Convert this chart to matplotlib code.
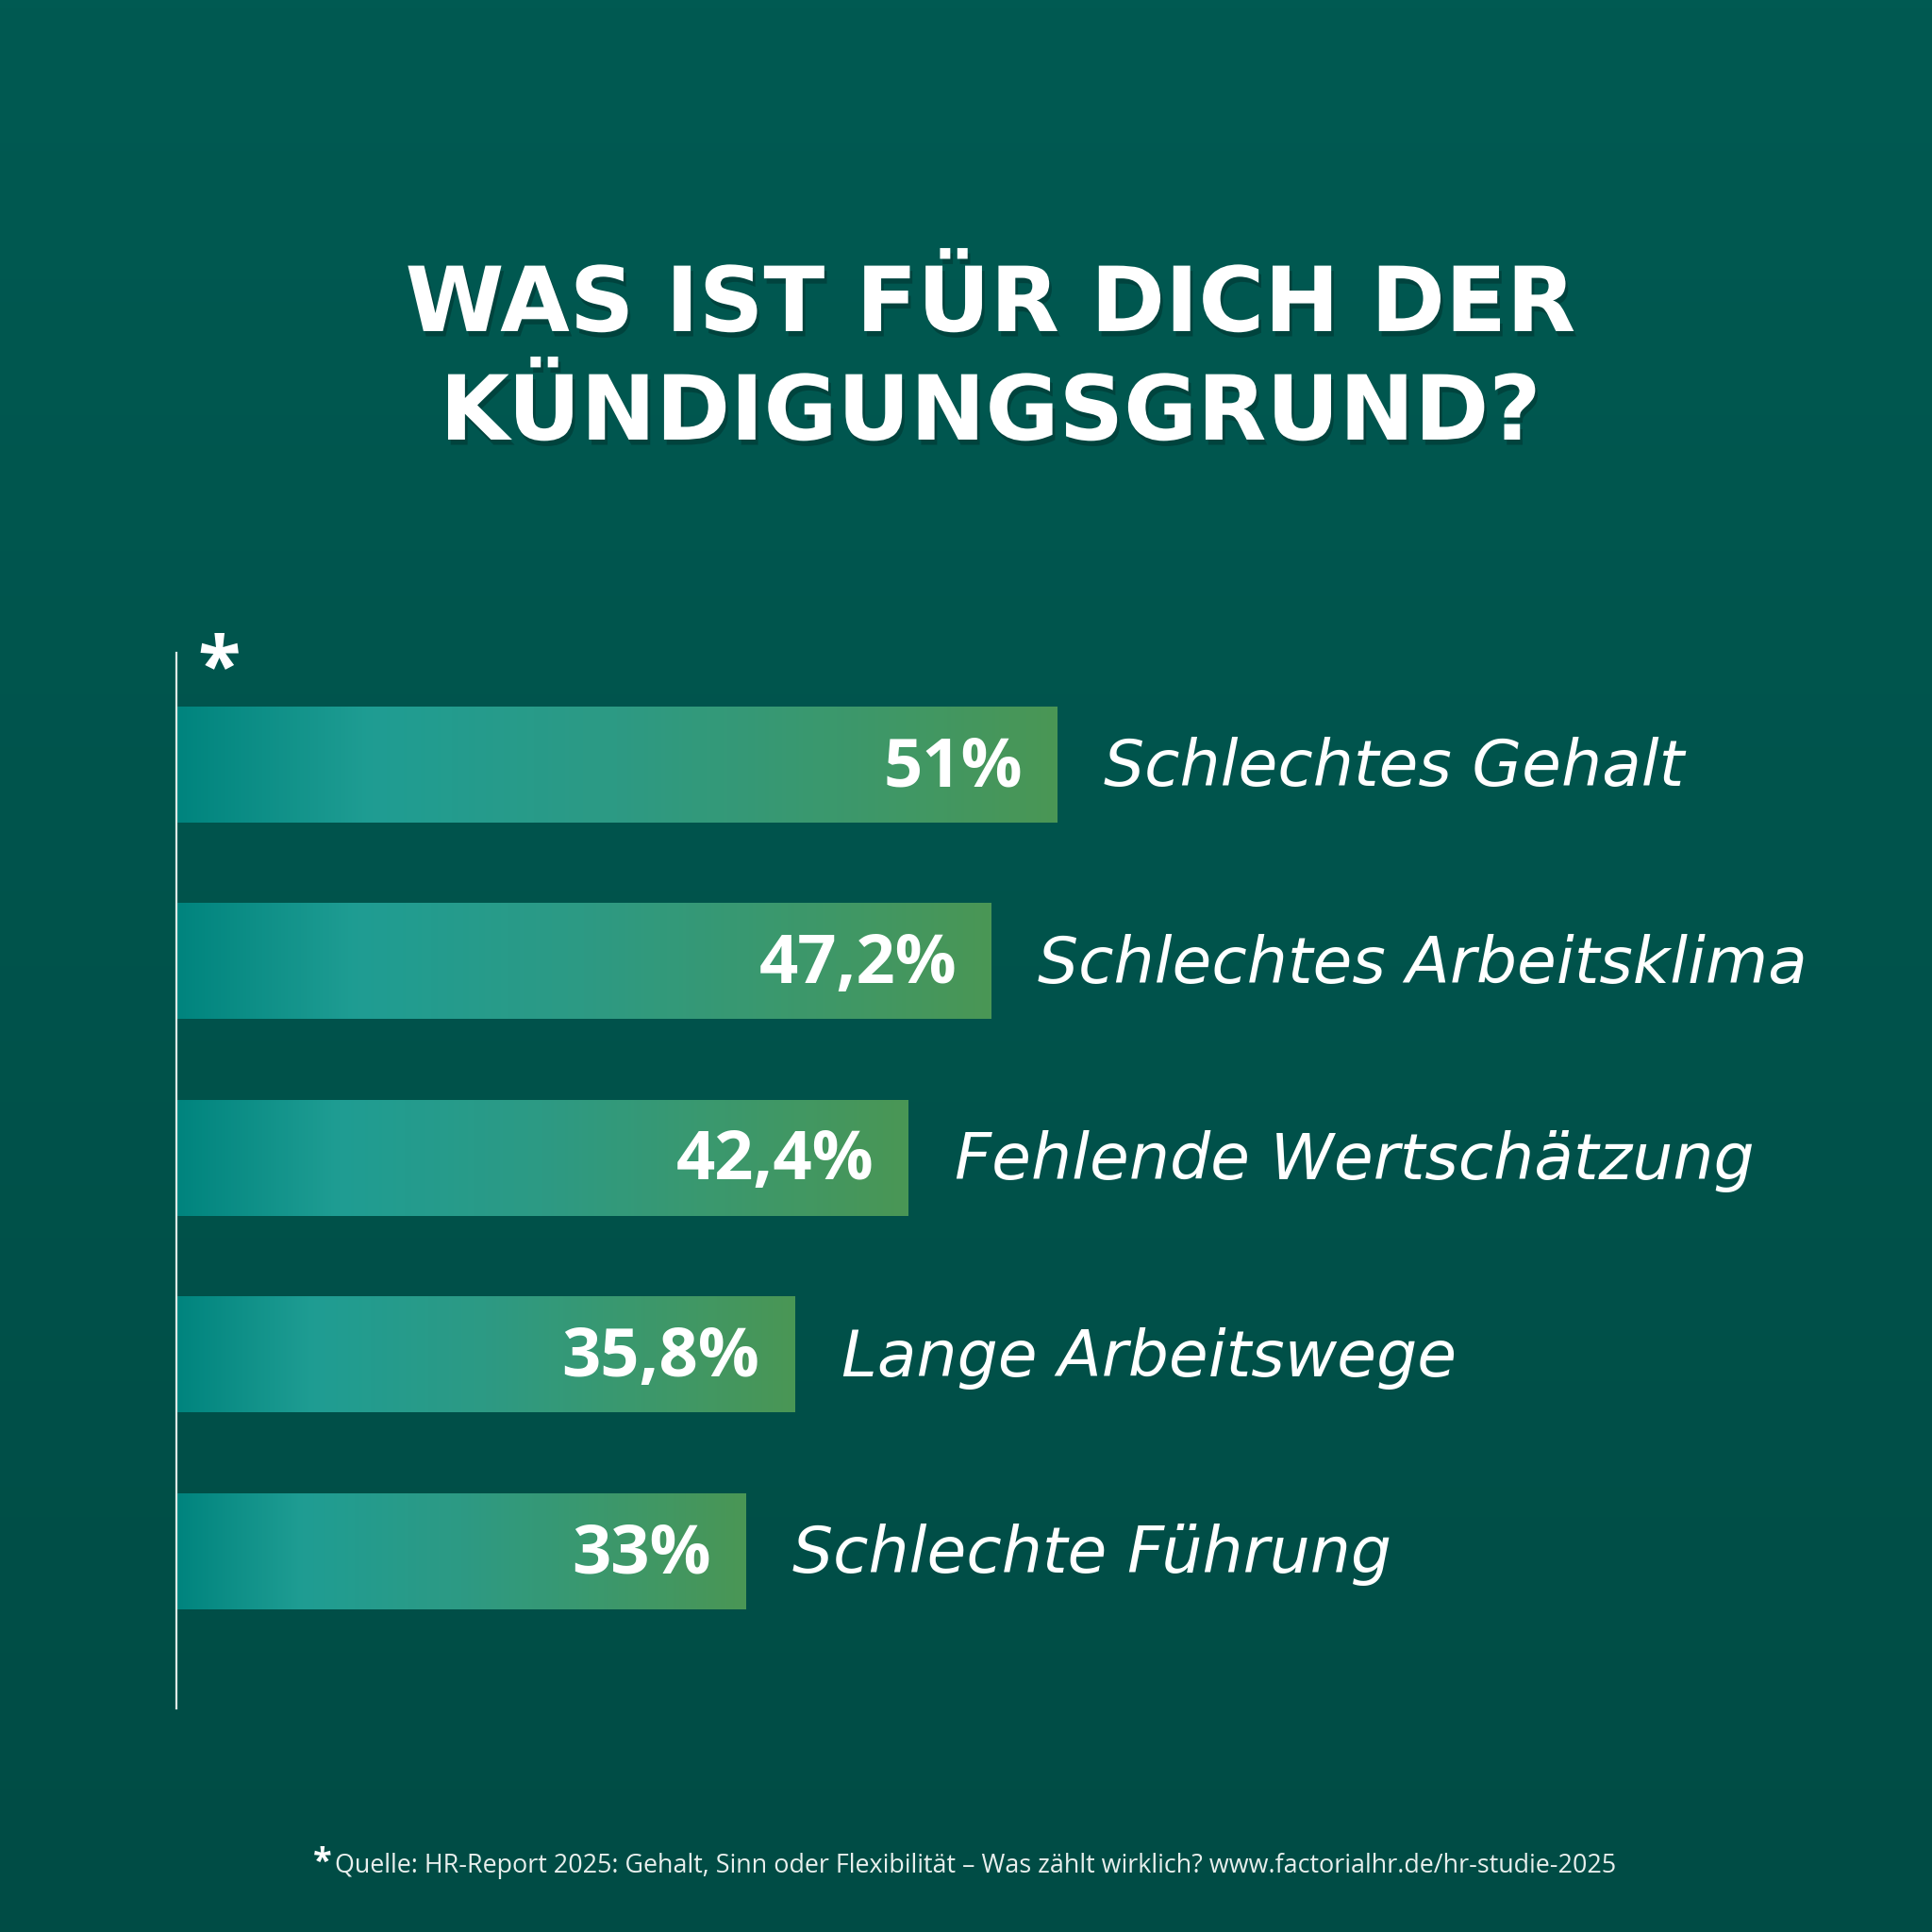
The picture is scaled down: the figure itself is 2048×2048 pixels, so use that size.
import numpy as np
import matplotlib.pyplot as plt
from matplotlib.colors import LinearSegmentedColormap
import matplotlib.patheffects as pe

categories = ['Schlechtes Gehalt', 'Schlechtes Arbeitsklima', 'Fehlende Wertschätzung',
              'Lange Arbeitswege', 'Schlechte Führung']
values = [51, 47.2, 42.4, 35.8, 33]
value_labels = ['51%', '47,2%', '42,4%', '35,8%', '33%']
title = 'WAS IST FÜR DICH DER\nKÜNDIGUNGSGRUND?'
source = 'Quelle: HR-Report 2025: Gehalt, Sinn oder Flexibilität – Was zählt wirklich? www.factorialhr.de/hr-studie-2025'

W = 2048
fig = plt.figure(figsize=(20.48, 20.48), dpi=100)

# background gradient
bg = fig.add_axes([0, 0, 1, 1], zorder=0)
bg_cmap = LinearSegmentedColormap.from_list('bg', ['#004c45', '#005a52'])
bg.imshow(np.linspace(0, 1, 256).reshape(-1, 1), aspect='auto', cmap=bg_cmap,
          origin='lower', extent=[0, 1, 0, 1])
bg.set_axis_off()

# bars
bar_cmap = LinearSegmentedColormap.from_list(
    'bar', [(0, '#00847e'), (0.22, '#1f9d93'), (0.5, '#2d9a84'), (1, '#4a9655')])
ax = fig.add_axes([187 / W, 1 - 1811 / W, 1830 / W, 1119 / W], zorder=1)
ax.patch.set_alpha(0)
y = np.arange(len(values))
h = 0.59
bars = ax.barh(y, values, height=h, color='none')
grad = np.linspace(0, 1, 256).reshape(1, -1)
for b, v, yy in zip(bars, values, y):
    im = ax.imshow(grad, cmap=bar_cmap, aspect='auto',
                   extent=[0, v, yy + h / 2, yy - h / 2], zorder=2)
    im.set_clip_path(b)

ax.set_xlim(0, 100)
ax.set_ylim(4.80, -0.566)
for s in ['top', 'right', 'bottom']:
    ax.spines[s].set_visible(False)
ax.spines['left'].set_color('#dfe9e6')
ax.spines['left'].set_linewidth(1.6)
ax.set_xticks([])
ax.set_yticks([])

for v, yy, lab, cat in zip(values, y, value_labels, categories):
    ax.text(v - 2.0, yy + 0.02, lab, ha='right', va='center', color='white',
            fontsize=52, fontweight='bold', family='Open Sans', zorder=3)
    ax.text(v + 2.7, yy + 0.02, cat, ha='left', va='center', color='white',
            fontsize=49, fontstyle='italic', family='DejaVu Sans', zorder=3)

# asterisk at top of axis
fig.text(232 / W, 1 - 712 / W, '*', ha='center', va='center', color='white',
         fontsize=60, fontweight='bold', family='Open Sans')

# title
fig.text(1050 / W, 1 - 466 / W, title, ha='center', va='baseline', color='white',
         fontsize=68.5, fontweight='bold', family='DejaVu Sans', linespacing=1.32,
         path_effects=[pe.withSimplePatchShadow(offset=(2, -4), shadow_rgbFace='black', alpha=0.22)])

# source footnote
fig.text(355 / W, 1 - 1985 / W, source, ha='left', va='baseline', color='#e8efed',
         fontsize=19.4, family='Open Sans')
fig.text(342 / W, 1 - 1984 / W, '*', ha='center', va='baseline', color='white',
         fontsize=26, fontweight='bold', family='Open Sans')

fig.savefig('out.png', dpi=100)
